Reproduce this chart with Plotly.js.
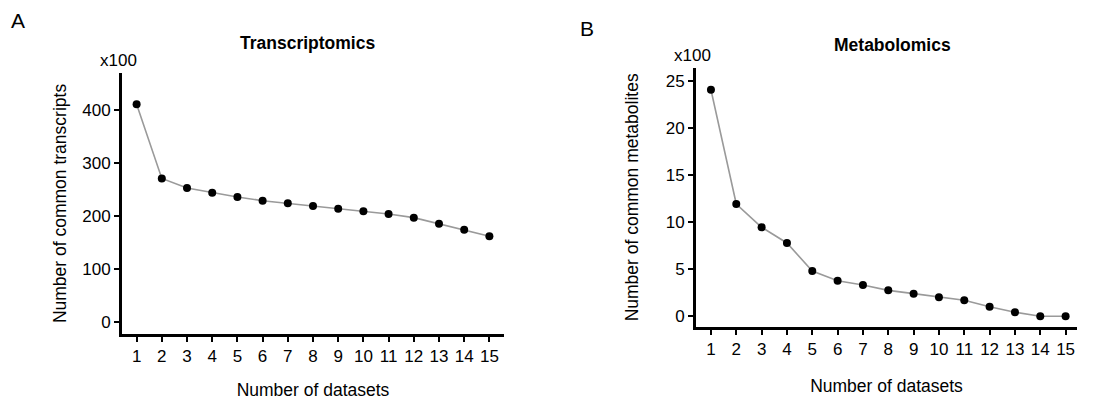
<!DOCTYPE html>
<html>
<head>
<meta charset="utf-8">
<script src="https://cdn.plot.ly/plotly-3.0.1.min.js"></script>
<style>
  html, body { margin: 0; padding: 0; background: #fff; }
  #chart { width: 1110px; height: 404px; }
</style>
</head>
<body>
<div id="chart"></div>
<script>
// Number of datasets combined
const datasets = [1, 2, 3, 4, 5, 6, 7, 8, 9, 10, 11, 12, 13, 14, 15];

// Common transcripts (in hundreds)
const transcripts = [411, 271, 253, 244, 236, 229, 224, 219, 214, 209, 204, 197, 185.5, 174, 162];

// Common metabolites (in hundreds)
const metabolites = [24.1, 11.95, 9.47, 7.8, 4.82, 3.79, 3.33, 2.76, 2.41, 2.02, 1.7, 1.02, 0.43, 0, 0];

const transcriptTicks = [0, 100, 200, 300, 400];
const metaboliteTicks = [0, 5, 10, 15, 20, 25];

const FONT = 'Liberation Sans, Arial, Helvetica, sans-serif';

const lineStyle = { color: '#9a9a9a', width: 1.6 };
const markerStyle = { color: '#000', size: 8 };

const traces = [
  {
    x: datasets, y: transcripts, xaxis: 'x', yaxis: 'y',
    mode: 'lines+markers', line: lineStyle, marker: markerStyle,
    cliponaxis: false, showlegend: false
  },
  {
    x: datasets, y: metabolites, xaxis: 'x2', yaxis: 'y2',
    mode: 'lines+markers', line: lineStyle, marker: markerStyle,
    cliponaxis: false, showlegend: false
  }
];

function xAxis(domain, range, anchor, standoff) {
  return {
    domain: domain, range: range, anchor: anchor,
    tickvals: datasets, ticktext: datasets.map(String),
    showgrid: false, zeroline: false,
    showline: true, linecolor: '#000', linewidth: 3,
    ticks: 'outside', ticklen: 5, tickwidth: 2, tickcolor: '#000',
    tickfont: { family: FONT, size: 17, color: '#000' },
    title: { text: 'Number of datasets', font: { family: FONT, size: 17.5, color: '#000' }, standoff: standoff }
  };
}

function yAxis(domain, range, anchor, ticks, label, standoff) {
  return {
    domain: domain, range: range, anchor: anchor,
    tickvals: ticks, ticktext: ticks.map(String),
    showgrid: false, zeroline: false,
    showline: true, linecolor: '#000', linewidth: 3,
    ticks: 'outside', ticklen: 5, tickwidth: 2, tickcolor: '#000',
    tickfont: { family: FONT, size: 17, color: '#000' },
    title: { text: label, font: { family: FONT, size: 17.5, color: '#000' }, standoff: standoff }
  };
}

const W = 1110, H = 404;
const px = v => v / W;
const py = v => 1 - v / H;

function label(text, x, y, size) {
  return {
    text: text, x: px(x), y: py(y), xref: 'paper', yref: 'paper',
    xanchor: 'center', yanchor: 'middle', showarrow: false,
    font: { family: FONT, size: size, color: '#000' }
  };
}

const layout = {
  width: W, height: H,
  margin: { l: 0, r: 0, t: 0, b: 0 },
  paper_bgcolor: '#fff', plot_bgcolor: '#fff',
  font: { family: FONT, color: '#000' },
  xaxis: xAxis([px(122), px(504)], [0.42, 15.58], 'y', 19),
  yaxis: yAxis([py(334), py(73)], [-22.6, 470], 'x', transcriptTicks, 'Number of common transcripts', 12),
  xaxis2: xAxis([px(696), px(1077)], [0.41, 15.45], 'y2', 22),
  yaxis2: yAxis([py(327), py(67.7)], [-1.14, 26.45], 'x2', metaboliteTicks, 'Number of common metabolites', 23),
  annotations: [
    label('A', 18, 20, 21),
    label('B', 587, 29, 21),
    label('<b>Transcriptomics</b>', 307, 43, 17.5),
    label('<b>Metabolomics</b>', 892, 45, 17.5),
    label('x100', 118, 60, 17),
    label('x100', 692, 55, 17)
  ]
};

Plotly.newPlot('chart', traces, layout, { displayModeBar: false, staticPlot: true });
</script>
</body>
</html>
